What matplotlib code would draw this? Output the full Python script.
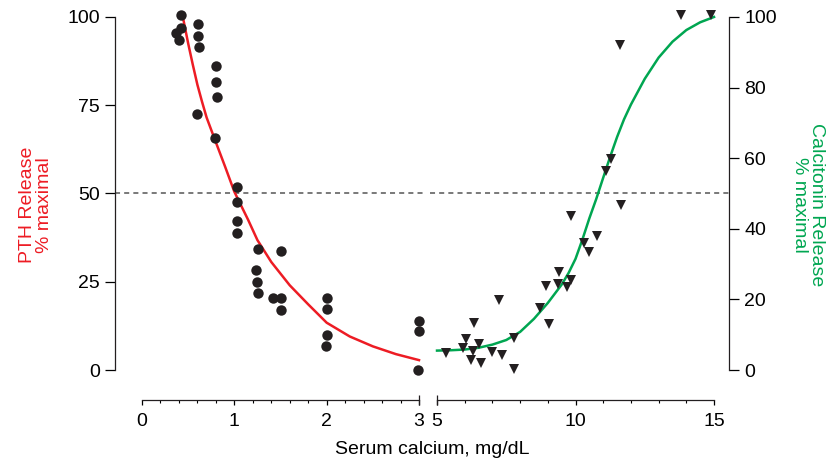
"""PTH and calcitonin release vs serum calcium (broken x axis)."""
import matplotlib
matplotlib.use('Agg')
import matplotlib.pyplot as plt
from matplotlib.ticker import FixedLocator

plt.rcParams['font.family'] = ['Liberation Sans', 'DejaVu Sans']
plt.rcParams['font.size'] = 14

RED = '#ED1C24'
GREEN = '#00A651'
DOT = '#231F20'

# PTH release (left axis, low calcium range)
pth_x = [0.42, 0.42, 0.37, 0.40, 0.61, 0.61, 0.62, 0.80, 0.80, 0.81, 0.60, 0.79,
         1.03, 1.03, 1.03, 1.03, 1.26, 1.51, 1.23, 1.25, 1.26, 1.42, 1.51, 1.50,
         2.00, 2.00, 2.00, 1.99, 3.00, 3.00, 2.99]
pth_y = [100.5, 97, 95.4, 93.5, 97.9, 94.6, 91.5, 86.1, 81.6, 77.2, 72.4, 65.8,
         51.7, 47.6, 42.3, 38.9, 34.4, 33.7, 28.3, 25.0, 21.9, 20.4, 20.4, 16.9,
         20.4, 17.3, 10.0, 6.9, 13.9, 11.1, 0.0]
pth_fit_x = [0.45, 0.5, 0.55, 0.6, 0.65, 0.7, 0.8, 0.9, 1.0, 1.15, 1.25, 1.4,
             1.6, 1.8, 2.0, 2.25, 2.5, 2.75, 3.0]
pth_fit_y = [99, 92.5, 86.5, 80.8, 76, 71.5, 64.5, 57.6, 50.5, 42.5, 36.8, 30.6,
             24, 18.6, 13.4, 9.5, 6.7, 4.5, 2.8]

# Calcitonin release (right axis, high calcium range)
ct_x = [5.31, 5.95, 6.05, 6.34, 6.50, 6.31, 6.23, 6.58, 6.97, 7.36, 7.78, 7.78,
        7.23, 8.72, 9.03, 8.95, 9.38, 9.42, 9.70, 9.84, 9.83, 10.32, 10.50, 10.79,
        11.10, 11.28, 11.65, 11.62, 13.82, 14.88]
ct_y = [4.7, 6.3, 8.7, 13.2, 7.3, 5.4, 2.8, 1.9, 5.2, 4.2, 9.0, 0.3,
        19.8, 17.5, 13.0, 23.8, 24.4, 27.7, 23.4, 25.5, 43.6, 35.9, 33.4, 38.1,
        56.5, 59.7, 46.8, 92.0, 100.5, 100.5]
ct_fit_x = [5.0, 5.5, 6.0, 6.5, 7.0, 7.5, 8.0, 8.5, 9.0, 9.5, 9.75, 10.0, 10.25,
            10.5, 10.75, 11.0, 11.25, 11.5, 11.75, 12.0, 12.5, 13.0, 13.5, 14.0,
            14.5, 15.0]
ct_fit_y = [5.5, 5.6, 5.8, 6.3, 7.2, 8.5, 10.8, 14.5, 19.0, 24.2, 27.5, 31.5,
            37.0, 43.0, 48.5, 54.5, 60.4, 66.0, 71.0, 75.2, 82.5, 88.5, 93.0,
            96.3, 98.5, 100.0]

fig = plt.figure(figsize=(8.34, 4.67), dpi=100)
ax1 = fig.add_axes([0.1379, 0.1435, 0.3729, 0.8351])
ax2 = fig.add_axes([0.5156, 0.1435, 0.3585, 0.8351])

ylim = (-8.49, 101.98)

# left panel
ax1.plot(pth_fit_x, pth_fit_y, color=RED, linewidth=1.8, zorder=2)
ax1.plot(pth_x, pth_y, 'o', color=DOT, markersize=7.5, markeredgewidth=0,
         clip_on=False, zorder=3)
ax1.axhline(50, color='#555555', linewidth=1.1, linestyle=(0, (3.3, 2.7)), zorder=1)
ax1.set_xlim(-0.2924, 3.0758)
ax1.set_ylim(*ylim)
ax1.set_xticks([0, 1, 2, 3])
ax1.xaxis.set_minor_locator(FixedLocator([i * 0.2 for i in range(16)]))
ax1.set_yticks([0, 25, 50, 75, 100])
for s in ['top', 'right']:
    ax1.spines[s].set_visible(False)
ax1.spines['left'].set_bounds(0, 100)
ax1.spines['bottom'].set_bounds(0, 3)
ax1.set_ylabel('PTH Release\n% maximal', color=RED, fontsize=14, labelpad=10,
               linespacing=1.0)

# right panel
ax2.plot(ct_fit_x, ct_fit_y, color=GREEN, linewidth=1.8, zorder=2)
ax2.plot(ct_x, ct_y, 'v', color=DOT, markersize=7.5, markeredgewidth=0,
         clip_on=False, zorder=3)
ax2.axhline(50, color='#555555', linewidth=1.1, linestyle=(0, (3.3, 2.7)), zorder=1)
ax2.set_xlim(4.747, 15.54)
ax2.set_ylim(*ylim)
ax2.set_xticks([5, 10, 15])
ax2.xaxis.set_minor_locator(FixedLocator(range(5, 16)))
ax2.set_yticks([0, 20, 40, 60, 80, 100])
ax2.yaxis.tick_right()
ax2.yaxis.set_label_position('right')
for s in ['top', 'left']:
    ax2.spines[s].set_visible(False)
ax2.spines['right'].set_bounds(0, 100)
ax2.spines['bottom'].set_bounds(5, 15)
ax2.set_ylabel('Calcitonin Release\n% maximal', color=GREEN, fontsize=14,
               rotation=270, va='bottom', labelpad=10, linespacing=1.0)

for ax in (ax1, ax2):
    for s in ax.spines.values():
        s.set_linewidth(0.9)
        s.set_color('#231F20')
    ax.tick_params(axis='y', length=7, width=0.9, pad=4, labelsize=14)
    ax.tick_params(axis='x', which='major', length=3.5, width=0.9, pad=6,
                   labelsize=14)
    ax.tick_params(axis='x', which='minor', length=2, width=0.8)

# break marks at the ends of the two x segments
ax1.plot([3], [0], marker='|', markersize=7, color='#231F20', mew=0.9,
         transform=ax1.get_xaxis_transform(), clip_on=False)
ax2.plot([5], [0], marker='|', markersize=7, color='#231F20', mew=0.9,
         transform=ax2.get_xaxis_transform(), clip_on=False)

fig.text(432 / 834, 1 - 450 / 467, 'Serum calcium, mg/dL', ha='center',
         va='center', fontsize=14)

plt.savefig('out.png', dpi=100)
plt.close()
